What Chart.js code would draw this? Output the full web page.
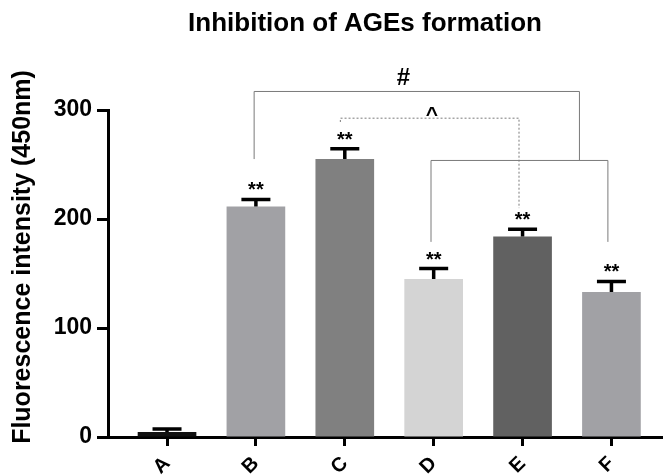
<!doctype html>
<html lang="en">
<head>
<meta charset="utf-8">
<title>Inhibition of AGEs formation</title>
<style>
  html, body { margin: 0; padding: 0; background: #fff; }
  #chart { display: block; }
</style>
</head>
<body>
<canvas id="chart" width="663" height="476"></canvas>
<script src="https://cdn.jsdelivr.net/npm/chart.js"></script>
<script>
const groups = ['A', 'B', 'C', 'D', 'E', 'F'];
const means = [4.5, 211.5, 255, 145, 184, 133];
const errors = [2.8, 6.5, 9.5, 9.5, 6.5, 9.7];
const marks = ['', '**', '**', '**', '**', '**'];
const barColors = ['#111111', '#a1a1a5', '#808080', '#d4d4d4', '#616161', '#a1a1a5'];
const yTicks = [0, 100, 200, 300];

const FONT = '"Liberation Sans", Arial, sans-serif';

// significance brackets, given as [group index, value] so they follow the scales
const brackets = [
  { pts: [[0.98, 255], [0.98, 317], [4.64, 317], [4.64, 254]], dash: [] },
  { pts: [[2.97, 179], [2.97, 253.7], [4.96, 253.7], [4.96, 179]], dash: [] },
  { pts: [[1.95, 289], [1.95, 292.5], [3.96, 292.5], [3.96, 210]], dash: [2, 2] }
];
const bracketLabels = [
  { text: '#', at: [2.66, 323], size: 24 },
  { text: '^', at: [2.98, 290], size: 21 }
];

const annotations = {
  id: 'annotations',
  afterDatasetsDraw(chart) {
    const { ctx, scales: { x, y } } = chart;
    ctx.save();

    // error bars (upper only) + stars
    ctx.strokeStyle = '#000';
    ctx.fillStyle = '#000';
    ctx.lineWidth = 3.5;
    ctx.textAlign = 'center';
    ctx.textBaseline = 'alphabetic';
    ctx.font = 'bold 20px ' + FONT;
    means.forEach((m, i) => {
      const px = x.getPixelForValue(i);
      const base = y.getPixelForValue(m);
      const top = y.getPixelForValue(m + errors[i]);
      ctx.beginPath();
      ctx.moveTo(px, base);
      ctx.lineTo(px, top);
      ctx.moveTo(px - 14.5, top);
      ctx.lineTo(px + 14.5, top);
      ctx.stroke();
      if (marks[i]) ctx.fillText(marks[i], px, top - 3);
    });

    // brackets
    ctx.strokeStyle = '#7a7a7a';
    ctx.lineWidth = 1;
    brackets.forEach(b => {
      ctx.setLineDash(b.dash);
      ctx.beginPath();
      b.pts.forEach((p, k) => {
        const px = x.getPixelForValue(p[0]);
        const py = y.getPixelForValue(p[1]);
        if (k === 0) ctx.moveTo(px, py); else ctx.lineTo(px, py);
      });
      ctx.stroke();
    });
    ctx.setLineDash([]);

    bracketLabels.forEach(l => {
      ctx.font = 'bold ' + l.size + 'px ' + FONT;
      ctx.fillText(l.text, x.getPixelForValue(l.at[0]), y.getPixelForValue(l.at[1]));
    });

    // chart title
    ctx.font = 'bold 26px ' + FONT;
    ctx.fillText('Inhibition of AGEs formation', 365, 31);

    // y axis title
    ctx.font = 'bold 25px ' + FONT;
    ctx.textBaseline = 'middle';
    ctx.translate(23, 257);
    ctx.rotate(-Math.PI / 2);
    ctx.fillText('Fluorescence intensity (450nm)', 0, 0);
    ctx.restore();
  }
};

const ctx = document.getElementById('chart').getContext('2d');
const chart = new Chart(ctx, {
  type: 'bar',
  data: {
    datasets: [{
      label: 'Fluorescence',
      data: means.map((v, i) => ({ x: i, y: v })),
      backgroundColor: barColors,
      borderWidth: 0,
      barPercentage: 0.66,
      categoryPercentage: 1
    }]
  },
  options: {
    responsive: false,
    animation: false,
    devicePixelRatio: 1,
    layout: { padding: { top: 110, right: 0, left: 0, bottom: 0 } },
    plugins: {
      legend: { display: false },
      tooltip: { enabled: false },
      title: { display: false }
    },
    scales: {
      x: {
        type: 'linear',
        offset: false,
        min: -0.664,
        max: 5.58,
        afterBuildTicks: (scale) => { scale.ticks = groups.map((g, i) => ({ value: i })); },
        afterFit: (scale) => { scale.height = 39; },
        ticks: {
          autoSkip: false,
          minRotation: 45,
          maxRotation: 45,
          padding: 6,
          color: '#000',
          font: { family: FONT, size: 20, weight: 'bold' },
          callback: (v) => groups[v]
        },
        grid: {
          offset: false,
          drawOnChartArea: false,
          drawTicks: true,
          tickLength: 9,
          tickWidth: 3,
          tickColor: '#000'
        },
        border: { display: true, color: '#000', width: 3 }
      },
      y: {
        min: 0,
        max: 300,
        afterBuildTicks: (scale) => { scale.ticks = yTicks.map(v => ({ value: v })); },
        afterFit: (scale) => { scale.width = 108; },
        ticks: {
          padding: 5,
          color: '#000',
          font: { family: FONT, size: 23, weight: 'bold' }
        },
        grid: {
          drawOnChartArea: false,
          drawTicks: true,
          tickLength: 11,
          tickWidth: 3,
          tickColor: '#000'
        },
        border: { display: true, color: '#000', width: 3 }
      }
    }
  },
  plugins: [annotations]
});
</script>
</body>
</html>
